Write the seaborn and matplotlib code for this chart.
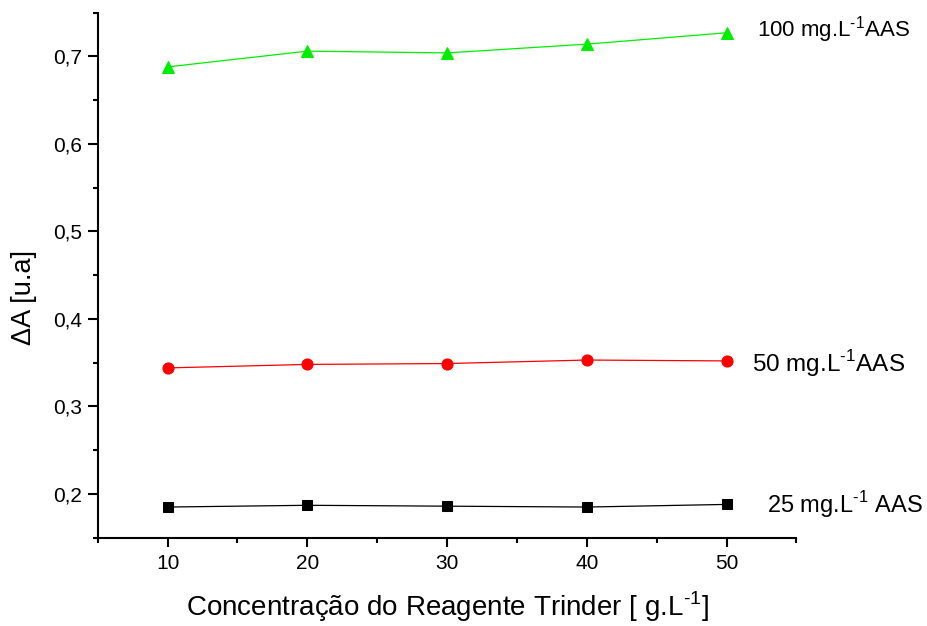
import numpy as np
import pandas as pd
import matplotlib
matplotlib.use("Agg")
import matplotlib.pyplot as plt
import seaborn as sns

# Trinder reagent concentration (g/L)
reagent_conc = [10, 20, 30, 40, 50]

# Absorbance change for each AAS standard
delta_a_25 = [0.185, 0.187, 0.186, 0.185, 0.188]
delta_a_50 = [0.344, 0.348, 0.349, 0.353, 0.352]
delta_a_100 = [0.688, 0.706, 0.704, 0.714, 0.727]

series_names = ["25 mg.L$^{\\text{-}1}$ AAS", "50 mg.L$^{\\text{-}1}$AAS", "100 mg.L$^{\\text{-}1}$AAS"]

x_ticks = [10, 20, 30, 40, 50]
y_ticks = [0.2, 0.3, 0.4, 0.5, 0.6, 0.7]
y_tick_labels = ["0,2", "0,3", "0,4", "0,5", "0,6", "0,7"]

df = pd.DataFrame({
    "conc": reagent_conc * 3,
    "dA": delta_a_25 + delta_a_50 + delta_a_100,
    "serie": [series_names[0]] * 5 + [series_names[1]] * 5 + [series_names[2]] * 5,
})

sns.set_style("ticks")
plt.rcParams["font.family"] = ["Liberation Sans", "DejaVu Sans"]
plt.rcParams["mathtext.fontset"] = "custom"
plt.rcParams["mathtext.rm"] = "Liberation Sans"
plt.rcParams["text.color"] = "black"
plt.rcParams["axes.labelcolor"] = "black"
plt.rcParams["xtick.color"] = "black"
plt.rcParams["ytick.color"] = "black"
plt.rcParams["axes.edgecolor"] = "black"

fig = plt.figure(figsize=(9.27, 6.26), dpi=100)
ax = fig.add_axes([0.1054, 0.1411, 0.7538, 0.8387])

colors = {series_names[0]: "#000000", series_names[1]: "#ff0000", series_names[2]: "#00ee00"}
markers = {series_names[0]: "s", series_names[1]: "o", series_names[2]: "^"}
sizes = {series_names[0]: 7.5, series_names[1]: 8, series_names[2]: 9}

for name in series_names:
    sub = df[df["serie"] == name]
    sns.lineplot(data=sub, x="conc", y="dA", color=colors[name], marker=markers[name],
                 markersize=sizes[name], markeredgecolor=colors[name], linewidth=0.9,
                 ax=ax, legend=False)

# Curve labels at the right end of each series
label_x = [52.9, 51.8, 52.15]
label_y = [delta_a_25[-1], delta_a_50[-1] - 0.003, delta_a_100[-1] + 0.004]
label_size = [17, 17.5, 16]
for name, lx, ly, fs in zip(series_names, label_x, label_y, label_size):
    ax.text(lx, ly, name, fontsize=fs, va="center", ha="left", clip_on=False)

ax.set_xlim(5, 55)
ax.set_ylim(0.15, 0.75)
ax.set_xticks(x_ticks)
ax.set_xticks([5, 15, 25, 35, 45, 55], minor=True)
ax.set_yticks(y_ticks)
ax.set_yticklabels(y_tick_labels)
ax.set_yticks([0.15, 0.25, 0.35, 0.45, 0.55, 0.65, 0.75], minor=True)

ax.tick_params(axis="x", which="major", direction="out", length=6.5, width=1.5, labelsize=15, pad=5)
ax.tick_params(axis="y", which="major", direction="out", length=7, width=1.5, labelsize=15, pad=4)
ax.tick_params(which="minor", direction="out", length=3.5, width=1.5)
for side in ["top", "right"]:
    ax.spines[side].set_visible(False)
for side in ["left", "bottom"]:
    ax.spines[side].set_linewidth(1.5)

ax.set_xlabel("Concentração do Reagente Trinder [ g.L$^{\\text{-}1}$]", fontsize=20, labelpad=12)
ax.set_ylabel("ΔA [u.a]", fontsize=19.5)
ax.yaxis.set_label_coords(-0.087, 0.458)

fig.savefig("out.png", dpi=100)
